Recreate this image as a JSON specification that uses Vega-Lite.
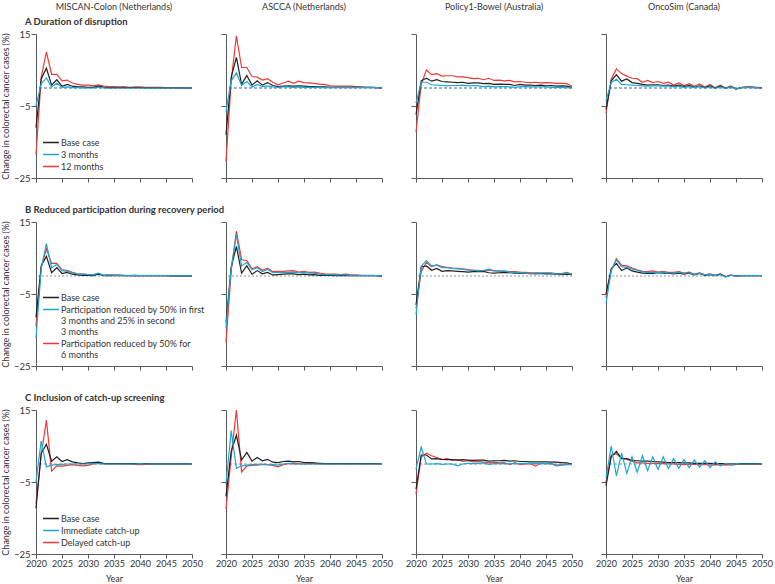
{
"$schema":"https://vega.github.io/schema/vega-lite/v6.json",
"padding":{"left":1,"top":3,"right":2,"bottom":0},
"config":{
 "view":{"stroke":null},
 "font":"Lato, DejaVu Sans Condensed, sans-serif",
 "title":{"font":"Lato, DejaVu Sans Condensed, sans-serif","fontSize":9,"fontWeight":"normal","color":"#333333","offset":2,"anchor":"middle"},
 "axis":{"grid":false,"domainColor":"#58595b","tickColor":"#58595b","domainWidth":1,"tickWidth":1,"labelFont":"Lato, DejaVu Sans Condensed, sans-serif","labelFontSize":9.5,"labelColor":"#333333","titleFont":"Lato, DejaVu Sans Condensed, sans-serif","titleFontSize":9,"titleFontWeight":"normal","titleColor":"#333333","labelPadding":1,"labelFlush":false,"labelOverlap":false},
 "axisX":{"tickSize":4,"labelPadding":1,"titlePadding":6,"labelFontSize":9},
 "axisY":{"tickSize":5,"titlePadding":3},
 "legend":{"symbolType":"M-1,0H1.9","symbolSize":121,"symbolStrokeWidth":1.5,"labelFont":"Lato, DejaVu Sans Condensed, sans-serif","labelFontSize":9,"labelColor":"#333333","rowPadding":0,"labelOffset":6,"padding":0,"labelLimit":400}
},
"datasets":{
"A1":[{"x":2020,"a":-11,"b":-5,"c":-18.5},{"x":2021,"a":2.5,"b":1.2,"c":3},{"x":2022,"a":5.5,"b":2.8,"c":10},{"x":2023,"a":0.8,"b":0.3,"c":3.8},{"x":2024,"a":2.3,"b":1.3,"c":3.8},{"x":2025,"a":0.5,"b":0.2,"c":2},{"x":2026,"a":1,"b":0.3,"c":2.2},{"x":2027,"a":0.5,"b":0.1,"c":1.4},{"x":2028,"a":0.3,"b":0.1,"c":1},{"x":2029,"a":0.3,"b":0.05,"c":0.8},{"x":2030,"a":0.2,"b":0,"c":0.8},{"x":2031,"a":0.2,"b":0,"c":0.6},{"x":2032,"a":0.6,"b":0.2,"c":0.9},{"x":2033,"a":0.2,"b":0,"c":0.5},{"x":2034,"a":0.1,"b":0,"c":0.4},{"x":2035,"a":0.1,"b":0,"c":0.4},{"x":2036,"a":0.1,"b":0,"c":0.3},{"x":2037,"a":0.1,"b":0,"c":0.4},{"x":2038,"a":0.1,"b":0,"c":0.2},{"x":2039,"a":0.1,"b":0,"c":0.3},{"x":2040,"a":0.1,"b":0,"c":0.3},{"x":2041,"a":0.05,"b":0,"c":0.2},{"x":2042,"a":0.05,"b":0,"c":0.2},{"x":2043,"a":0.05,"b":0,"c":0.15},{"x":2044,"a":0.05,"b":0,"c":0.15},{"x":2045,"a":0,"b":0,"c":0.1},{"x":2046,"a":0,"b":0,"c":0.1},{"x":2047,"a":0,"b":0,"c":0.1},{"x":2048,"a":0,"b":0,"c":0.05},{"x":2049,"a":0,"b":0,"c":0.05},{"x":2050,"a":0,"b":0,"c":0}],
"A2":[{"x":2020,"a":-13,"b":-6.5,"c":-20.5},{"x":2021,"a":3,"b":2,"c":2},{"x":2022,"a":8.5,"b":4.2,"c":14.5},{"x":2023,"a":1,"b":0.7,"c":5.7},{"x":2024,"a":3.5,"b":1.8,"c":5.7},{"x":2025,"a":0.8,"b":0.3,"c":3.2},{"x":2026,"a":2,"b":1,"c":3},{"x":2027,"a":0.8,"b":0.4,"c":2.2},{"x":2028,"a":1.5,"b":0.6,"c":2.6},{"x":2029,"a":0.7,"b":0.3,"c":1.6},{"x":2030,"a":0.4,"b":0.2,"c":0.9},{"x":2031,"a":0.5,"b":0.3,"c":1.4},{"x":2032,"a":0.6,"b":0.3,"c":1.9},{"x":2033,"a":0.5,"b":0.2,"c":1.3},{"x":2034,"a":0.6,"b":0.3,"c":1.9},{"x":2035,"a":0.5,"b":0.2,"c":1.5},{"x":2036,"a":0.4,"b":0.2,"c":1.4},{"x":2037,"a":0.4,"b":0.2,"c":1.3},{"x":2038,"a":0.3,"b":0.2,"c":1},{"x":2039,"a":0.3,"b":0.1,"c":1},{"x":2040,"a":0.2,"b":0.1,"c":0.6},{"x":2041,"a":0.2,"b":0.1,"c":0.5},{"x":2042,"a":0.2,"b":0.1,"c":0.5},{"x":2043,"a":0.2,"b":0.1,"c":0.5},{"x":2044,"a":0.2,"b":0.1,"c":0.5},{"x":2045,"a":0.2,"b":0.1,"c":0.4},{"x":2046,"a":0.2,"b":0.1,"c":0.3},{"x":2047,"a":0.2,"b":0.1,"c":0.2},{"x":2048,"a":0.2,"b":0.1,"c":0.2},{"x":2049,"a":0.1,"b":0.1,"c":0.1},{"x":2050,"a":0,"b":0,"c":0}],
"A3":[{"x":2020,"a":-7.4,"b":-4.2,"c":-12.3},{"x":2021,"a":2,"b":1.6,"c":1},{"x":2022,"a":2.7,"b":1.6,"c":5},{"x":2023,"a":1.9,"b":0.9,"c":3.7},{"x":2024,"a":2.3,"b":0.8,"c":4},{"x":2025,"a":1.8,"b":0.7,"c":3.3},{"x":2026,"a":1.7,"b":0.6,"c":3.4},{"x":2027,"a":1.6,"b":0.7,"c":3.4},{"x":2028,"a":1.5,"b":0.7,"c":3.1},{"x":2029,"a":1.6,"b":0.8,"c":3.1},{"x":2030,"a":1.3,"b":0.6,"c":2.9},{"x":2031,"a":1.4,"b":0.7,"c":2.6},{"x":2032,"a":1.4,"b":0.6,"c":2.7},{"x":2033,"a":1.2,"b":0.4,"c":2.3},{"x":2034,"a":1.3,"b":0.5,"c":2.7},{"x":2035,"a":1,"b":0.3,"c":2.1},{"x":2036,"a":1.1,"b":0.4,"c":2.2},{"x":2037,"a":1,"b":0.4,"c":2},{"x":2038,"a":1,"b":0.3,"c":2.1},{"x":2039,"a":0.7,"b":0.2,"c":1.7},{"x":2040,"a":1,"b":0.4,"c":1.8},{"x":2041,"a":0.8,"b":0.4,"c":1.6},{"x":2042,"a":0.8,"b":0.3,"c":1.5},{"x":2043,"a":0.7,"b":0.3,"c":1.6},{"x":2044,"a":0.8,"b":0.3,"c":1.4},{"x":2045,"a":0.6,"b":0.3,"c":1.5},{"x":2046,"a":0.7,"b":0.2,"c":1.4},{"x":2047,"a":0.5,"b":0.2,"c":1.3},{"x":2048,"a":0.6,"b":0.2,"c":1.3},{"x":2049,"a":0.5,"b":0.1,"c":1.2},{"x":2050,"a":0.2,"b":0,"c":0.5}],
"A4":[{"x":2020,"a":-6,"b":-3.5,"c":-7},{"x":2021,"a":2,"b":1.5,"c":2.5},{"x":2022,"a":3.7,"b":2.4,"c":5.3},{"x":2023,"a":1.9,"b":1,"c":4},{"x":2024,"a":2.5,"b":0.9,"c":3.3},{"x":2025,"a":1.5,"b":0.8,"c":2.7},{"x":2026,"a":1.3,"b":0.7,"c":2.6},{"x":2027,"a":1,"b":0.6,"c":1.6},{"x":2028,"a":0.8,"b":0.5,"c":2.1},{"x":2029,"a":0.9,"b":0.6,"c":1.5},{"x":2030,"a":0.9,"b":0.6,"c":1.8},{"x":2031,"a":0.7,"b":0.5,"c":1.3},{"x":2032,"a":0.8,"b":0.6,"c":1.6},{"x":2033,"a":0.5,"b":0.3,"c":0.8},{"x":2034,"a":0.8,"b":0.5,"c":1.4},{"x":2035,"a":0.4,"b":0.2,"c":0.7},{"x":2036,"a":0.7,"b":0.4,"c":1.2},{"x":2037,"a":0.2,"b":0.1,"c":0.5},{"x":2038,"a":0.6,"b":0.4,"c":1.1},{"x":2039,"a":0.1,"b":0,"c":0.3},{"x":2040,"a":0.6,"b":0.3,"c":1},{"x":2041,"a":0,"b":-0.1,"c":0.1},{"x":2042,"a":0.5,"b":0.3,"c":0.8},{"x":2043,"a":-0.1,"b":-0.1,"c":0},{"x":2044,"a":0.4,"b":0.3,"c":0.6},{"x":2045,"a":-0.3,"b":-0.3,"c":-0.2},{"x":2046,"a":0.1,"b":0.1,"c":0.2},{"x":2047,"a":0.2,"b":0.1,"c":0.3},{"x":2048,"a":0.2,"b":0.1,"c":0.3},{"x":2049,"a":0.1,"b":0.1,"c":0.2},{"x":2050,"a":0,"b":0,"c":0.1}],
"B1":[{"x":2020,"a":-11.5,"b":-17.3,"c":-14},{"x":2021,"a":2.8,"b":2,"c":2.5},{"x":2022,"a":5.5,"b":9,"c":7.5},{"x":2023,"a":0.9,"b":2.3,"c":3.5},{"x":2024,"a":2.3,"b":3.2,"c":3.5},{"x":2025,"a":0.7,"b":1.5,"c":1.8},{"x":2026,"a":1,"b":1.3,"c":1.5},{"x":2027,"a":0.5,"b":0.9,"c":1},{"x":2028,"a":0.3,"b":0.6,"c":0.6},{"x":2029,"a":0.2,"b":0.5,"c":0.5},{"x":2030,"a":0.2,"b":0.4,"c":0.4},{"x":2031,"a":0.1,"b":0.3,"c":0.3},{"x":2032,"a":0.5,"b":0.8,"c":0.7},{"x":2033,"a":0.1,"b":0.2,"c":0.2},{"x":2034,"a":0.1,"b":0.3,"c":0.3},{"x":2035,"a":0.1,"b":0.2,"c":0.3},{"x":2036,"a":0.1,"b":0.2,"c":0.3},{"x":2037,"a":0.1,"b":0.1,"c":0.2},{"x":2038,"a":0.1,"b":0.1,"c":0.1},{"x":2039,"a":0.1,"b":0.2,"c":0.2},{"x":2040,"a":0.1,"b":0.1,"c":0.1},{"x":2041,"a":0.1,"b":0.1,"c":0.1},{"x":2042,"a":0.1,"b":0.1,"c":0.1},{"x":2043,"a":0.1,"b":0.1,"c":0.1},{"x":2044,"a":0.1,"b":0.1,"c":0.1},{"x":2045,"a":0.1,"b":0.1,"c":0.1},{"x":2046,"a":0.05,"b":0.05,"c":0.05},{"x":2047,"a":0.05,"b":0.05,"c":0.05},{"x":2048,"a":0.05,"b":0.05,"c":0.05},{"x":2049,"a":0.05,"b":0.05,"c":0.05},{"x":2050,"a":0,"b":0,"c":0}],
"B2":[{"x":2020,"a":-13,"b":-14.5,"c":-18.5},{"x":2021,"a":2.5,"b":2.2,"c":1.5},{"x":2022,"a":8.2,"b":11.5,"c":12.5},{"x":2023,"a":0.8,"b":2.8,"c":4.5},{"x":2024,"a":2.8,"b":3.8,"c":4.3},{"x":2025,"a":0.5,"b":1.7,"c":2},{"x":2026,"a":1.5,"b":2.3,"c":2.6},{"x":2027,"a":0.6,"b":1.2,"c":1.6},{"x":2028,"a":1,"b":1.8,"c":2.2},{"x":2029,"a":0.3,"b":0.9,"c":1.2},{"x":2030,"a":0.4,"b":1,"c":1.3},{"x":2031,"a":0.5,"b":1,"c":1.3},{"x":2032,"a":0.6,"b":1,"c":1.4},{"x":2033,"a":0.6,"b":1.1,"c":1.5},{"x":2034,"a":0.4,"b":0.9,"c":1.1},{"x":2035,"a":0.5,"b":1,"c":1.3},{"x":2036,"a":0.3,"b":0.8,"c":1},{"x":2037,"a":0.4,"b":0.8,"c":1.1},{"x":2038,"a":0.2,"b":0.5,"c":0.8},{"x":2039,"a":0.2,"b":0.4,"c":0.6},{"x":2040,"a":0.2,"b":0.4,"c":0.5},{"x":2041,"a":0.1,"b":0.3,"c":0.5},{"x":2042,"a":0.1,"b":0.3,"c":0.4},{"x":2043,"a":0.2,"b":0.3,"c":0.5},{"x":2044,"a":0.1,"b":0.1,"c":0.3},{"x":2045,"a":0.1,"b":0.1,"c":0.3},{"x":2046,"a":0.1,"b":0.1,"c":0.2},{"x":2047,"a":0.1,"b":0.1,"c":0.2},{"x":2048,"a":0.1,"b":0.1,"c":0.2},{"x":2049,"a":0.1,"b":0.1,"c":0.1},{"x":2050,"a":-0.1,"b":0,"c":0}],
"B3":[{"x":2020,"a":-8,"b":-10.8,"c":-9},{"x":2021,"a":2.5,"b":2.7,"c":1.2},{"x":2022,"a":2.8,"b":4.3,"c":3.8},{"x":2023,"a":1.6,"b":2.8,"c":2.6},{"x":2024,"a":2.1,"b":3,"c":3.1},{"x":2025,"a":1.3,"b":2.3,"c":2.6},{"x":2026,"a":1.5,"b":2.3,"c":2.4},{"x":2027,"a":1.4,"b":2.1,"c":2.2},{"x":2028,"a":1.3,"b":2,"c":2.1},{"x":2029,"a":1.2,"b":1.9,"c":2},{"x":2030,"a":1.1,"b":1.6,"c":1.8},{"x":2031,"a":1.2,"b":1.6,"c":1.6},{"x":2032,"a":1.2,"b":1.4,"c":1.6},{"x":2033,"a":1.3,"b":1.5,"c":1.5},{"x":2034,"a":0.9,"b":1.9,"c":1.6},{"x":2035,"a":0.8,"b":1.5,"c":1.4},{"x":2036,"a":0.9,"b":1.3,"c":1.4},{"x":2037,"a":1,"b":1.4,"c":1.3},{"x":2038,"a":0.9,"b":1.1,"c":1.2},{"x":2039,"a":0.8,"b":1,"c":1.2},{"x":2040,"a":0.8,"b":1,"c":1},{"x":2041,"a":0.7,"b":0.8,"c":1},{"x":2042,"a":0.7,"b":0.6,"c":0.9},{"x":2043,"a":0.6,"b":0.8,"c":0.9},{"x":2044,"a":0.7,"b":0.8,"c":0.8},{"x":2045,"a":0.6,"b":0.9,"c":0.8},{"x":2046,"a":0.6,"b":0.8,"c":0.8},{"x":2047,"a":0.5,"b":0.5,"c":0.7},{"x":2048,"a":0.4,"b":0.6,"c":0.7},{"x":2049,"a":0.5,"b":0.8,"c":1},{"x":2050,"a":0.4,"b":0.5,"c":0.5}],
"B4":[{"x":2020,"a":-5,"b":-7.6,"c":-6},{"x":2021,"a":2,"b":1.5,"c":1.5},{"x":2022,"a":3.5,"b":4.5,"c":4.8},{"x":2023,"a":1.5,"b":2.6,"c":3},{"x":2024,"a":2.2,"b":2.4,"c":2.8},{"x":2025,"a":1.4,"b":2,"c":2.2},{"x":2026,"a":1.1,"b":1.6,"c":1.7},{"x":2027,"a":0.8,"b":1.1,"c":1.3},{"x":2028,"a":0.7,"b":1,"c":1.2},{"x":2029,"a":0.7,"b":1,"c":1.4},{"x":2030,"a":0.9,"b":1,"c":1.1},{"x":2031,"a":0.8,"b":1.1,"c":1.3},{"x":2032,"a":0.8,"b":0.9,"c":1},{"x":2033,"a":0.6,"b":0.8,"c":1},{"x":2034,"a":0.8,"b":1,"c":1.2},{"x":2035,"a":0.5,"b":0.7,"c":0.8},{"x":2036,"a":0.8,"b":0.9,"c":1.1},{"x":2037,"a":0.3,"b":0.4,"c":0.5},{"x":2038,"a":0.7,"b":0.8,"c":0.9},{"x":2039,"a":0.2,"b":0.3,"c":0.3},{"x":2040,"a":0.4,"b":0.5,"c":0.6},{"x":2041,"a":0.1,"b":0.1,"c":0.2},{"x":2042,"a":0.5,"b":0.4,"c":0.6},{"x":2043,"a":-0.2,"b":-0.3,"c":-0.2},{"x":2044,"a":0.2,"b":0.2,"c":0.3},{"x":2045,"a":0,"b":0,"c":0},{"x":2046,"a":0.1,"b":0.1,"c":0.1},{"x":2047,"a":0.1,"b":0.1,"c":0.1},{"x":2048,"a":0.1,"b":0.1,"c":0.1},{"x":2049,"a":0.1,"b":0.1,"c":0.1},{"x":2050,"a":0.1,"b":0.1,"c":0.1}],
"C1":[{"x":2020,"a":-12.3,"b":-4.9,"c":-11},{"x":2021,"a":3,"b":6.4,"c":2.5},{"x":2022,"a":5.5,"b":-0.8,"c":12.2},{"x":2023,"a":0.8,"b":-0.3,"c":-2},{"x":2024,"a":2,"b":-0.2,"c":-0.5},{"x":2025,"a":0.7,"b":-0.1,"c":-0.6},{"x":2026,"a":1.2,"b":0,"c":-0.4},{"x":2027,"a":0.6,"b":0,"c":-0.2},{"x":2028,"a":0.3,"b":0,"c":-0.4},{"x":2029,"a":0.1,"b":0,"c":-0.5},{"x":2030,"a":0.3,"b":0,"c":-0.4},{"x":2031,"a":0.4,"b":0.1,"c":0},{"x":2032,"a":0.5,"b":0.1,"c":0.3},{"x":2033,"a":0.2,"b":0,"c":0},{"x":2034,"a":0.1,"b":0,"c":0.05},{"x":2035,"a":0.1,"b":0,"c":0.05},{"x":2036,"a":0.1,"b":0,"c":0.05},{"x":2037,"a":0.1,"b":0,"c":0.05},{"x":2038,"a":0.1,"b":0,"c":0.05},{"x":2039,"a":0.1,"b":0,"c":-0.1},{"x":2040,"a":0.1,"b":0.1,"c":-0.2},{"x":2041,"a":0.1,"b":0,"c":-0.1},{"x":2042,"a":0.05,"b":0,"c":0},{"x":2043,"a":0.05,"b":0,"c":0},{"x":2044,"a":0.05,"b":0,"c":0},{"x":2045,"a":0.05,"b":0,"c":0},{"x":2046,"a":0.05,"b":0,"c":0},{"x":2047,"a":0.05,"b":0,"c":0},{"x":2048,"a":0.05,"b":0,"c":0},{"x":2049,"a":0.05,"b":0,"c":0},{"x":2050,"a":0,"b":0,"c":0}],
"C2":[{"x":2020,"a":-9,"b":-5.5,"c":-12.5},{"x":2021,"a":3.5,"b":9.3,"c":2},{"x":2022,"a":8,"b":-1.2,"c":15},{"x":2023,"a":1.1,"b":-0.5,"c":-2.2},{"x":2024,"a":3.2,"b":-0.3,"c":-0.5},{"x":2025,"a":0.8,"b":-0.2,"c":-0.4},{"x":2026,"a":1.8,"b":-0.1,"c":-0.3},{"x":2027,"a":0.9,"b":-0.1,"c":-0.1},{"x":2028,"a":1.3,"b":-0.2,"c":-0.2},{"x":2029,"a":0.5,"b":-0.2,"c":-0.4},{"x":2030,"a":0.4,"b":-0.3,"c":-0.8},{"x":2031,"a":0.7,"b":0,"c":-0.2},{"x":2032,"a":0.8,"b":0.2,"c":0.1},{"x":2033,"a":0.6,"b":0,"c":0.2},{"x":2034,"a":0.7,"b":0,"c":0.1},{"x":2035,"a":0.4,"b":0,"c":0},{"x":2036,"a":0.4,"b":0,"c":0.1},{"x":2037,"a":0.3,"b":0,"c":0.1},{"x":2038,"a":0.2,"b":0,"c":0},{"x":2039,"a":0.1,"b":0,"c":0},{"x":2040,"a":0.1,"b":0,"c":0},{"x":2041,"a":0.1,"b":0,"c":0},{"x":2042,"a":0.1,"b":0,"c":0},{"x":2043,"a":0.1,"b":0,"c":0},{"x":2044,"a":0.1,"b":0,"c":0},{"x":2045,"a":0.1,"b":0,"c":0},{"x":2046,"a":0.1,"b":0,"c":0},{"x":2047,"a":0.1,"b":0,"c":0},{"x":2048,"a":0.1,"b":0,"c":0},{"x":2049,"a":0.1,"b":0,"c":0},{"x":2050,"a":0,"b":0,"c":0}],
"C3":[{"x":2020,"a":-7,"b":-1.5,"c":-8.4},{"x":2021,"a":2.5,"b":4.7,"c":2},{"x":2022,"a":2.5,"b":0,"c":3},{"x":2023,"a":1.4,"b":0,"c":2.3},{"x":2024,"a":1.5,"b":0.1,"c":1.8},{"x":2025,"a":1.3,"b":-0.1,"c":1.2},{"x":2026,"a":1.2,"b":0,"c":1.5},{"x":2027,"a":1.2,"b":0,"c":1},{"x":2028,"a":1.1,"b":-0.5,"c":1.2},{"x":2029,"a":1.2,"b":0,"c":0.7},{"x":2030,"a":1.1,"b":0.2,"c":0.9},{"x":2031,"a":1,"b":0.1,"c":0.6},{"x":2032,"a":1.1,"b":0.2,"c":0.7},{"x":2033,"a":1.1,"b":0.3,"c":0.5},{"x":2034,"a":0.8,"b":-0.1,"c":0.3},{"x":2035,"a":0.9,"b":0.1,"c":0.5},{"x":2036,"a":0.9,"b":0.1,"c":0.3},{"x":2037,"a":1,"b":0.1,"c":0.4},{"x":2038,"a":0.8,"b":0.1,"c":-0.2},{"x":2039,"a":0.9,"b":0.1,"c":0.4},{"x":2040,"a":0.7,"b":0.1,"c":-0.2},{"x":2041,"a":0.7,"b":0.2,"c":0},{"x":2042,"a":0.6,"b":0.2,"c":0.1},{"x":2043,"a":0.6,"b":0.1,"c":-0.6},{"x":2044,"a":0.6,"b":0.1,"c":0.2},{"x":2045,"a":0.6,"b":0.2,"c":0.1},{"x":2046,"a":0.5,"b":0.1,"c":0.1},{"x":2047,"a":0.5,"b":-0.3,"c":-0.5},{"x":2048,"a":0.4,"b":-0.2,"c":-0.3},{"x":2049,"a":0.3,"b":-0.1,"c":-0.2},{"x":2050,"a":0,"b":-0.1,"c":-0.2}],
"C4":[{"x":2020,"a":-6,"b":-4,"c":-5},{"x":2021,"a":2,"b":5,"c":2.5},{"x":2022,"a":3.5,"b":-3.3,"c":2.8},{"x":2023,"a":1.5,"b":3,"c":1.7},{"x":2024,"a":1.5,"b":-2.6,"c":1.3},{"x":2025,"a":1,"b":2,"c":0.8},{"x":2026,"a":0.9,"b":-2.3,"c":0.3},{"x":2027,"a":0.8,"b":2.3,"c":0.3},{"x":2028,"a":0.8,"b":-1.8,"c":0.2},{"x":2029,"a":0.7,"b":2,"c":0.2},{"x":2030,"a":0.6,"b":-1.5,"c":0.1},{"x":2031,"a":0.5,"b":2,"c":0.1},{"x":2032,"a":0.4,"b":-1.3,"c":0},{"x":2033,"a":0.4,"b":1.5,"c":0},{"x":2034,"a":0.4,"b":-1.2,"c":-0.1},{"x":2035,"a":0.3,"b":1.2,"c":-0.2},{"x":2036,"a":0.3,"b":-1,"c":-0.1},{"x":2037,"a":0.2,"b":1.1,"c":-0.1},{"x":2038,"a":0.2,"b":-0.9,"c":-0.2},{"x":2039,"a":0.2,"b":0.9,"c":-0.1},{"x":2040,"a":0.2,"b":-1,"c":-0.3},{"x":2041,"a":0.1,"b":0.6,"c":-0.2},{"x":2042,"a":0.1,"b":-0.5,"c":-0.3},{"x":2043,"a":0.1,"b":0.2,"c":-0.2},{"x":2044,"a":0,"b":-0.2,"c":-0.3},{"x":2045,"a":0.1,"b":0.1,"c":-0.1},{"x":2046,"a":0.1,"b":0,"c":-0.1},{"x":2047,"a":0.1,"b":0,"c":-0.1},{"x":2048,"a":0.1,"b":0,"c":-0.1},{"x":2049,"a":0.1,"b":0,"c":-0.1},{"x":2050,"a":0,"b":0,"c":-0.1}]
},
"spacing":1,
"resolve":{"scale":{"color":"independent"}},
"vconcat":[
 {"hconcat":[
   {"width":156,"height":1,"title":"MISCAN-Colon (Netherlands)","data":{"values":[]},"mark":"point"},
   {"width":156,"height":1,"title":"ASCCA (Netherlands)","data":{"values":[]},"mark":"point"},
   {"width":156,"height":1,"title":"Policy1-Bowel (Australia)","data":{"values":[]},"mark":"point"},
   {"width":156,"height":1,"title":"OncoSim (Canada)","data":{"values":[]},"mark":"point"}
  ],"spacing":34,"bounds":"flush"},
 {"spacing":21,"resolve":{"scale":{"color":"independent"}},"vconcat":[
  {"title":{"text":"A  Duration of disruption","anchor":"start","frame":"group","dx":-11,"fontWeight":"bold","fontSize":9.5,"offset":3},
   "spacing":34,"bounds":"flush","resolve":{"scale":{"color":"independent"}},
   "hconcat":[
    {"width":156,"height":144,"layer":[
      {"data":{"values":[{}]},"mark":{"type":"rule","strokeDash":[3,2],"strokeWidth":1,"color":"#2f6b87"},"encoding":{"y":{"datum":0,"type":"quantitative"}}},
      {"data":{"name":"A1"},"transform":[{"fold":["c","a","b"],"as":["s","v"]}],"mark":{"type":"line","strokeWidth":1.2},
       "encoding":{"x":{"field":"x","type":"quantitative","scale":{"domain":[2020,2050],"nice":false,"zero":false},"axis":{"values":[2020,2025,2030,2035,2040,2045,2050],"labels":false,"title":null}},
        "y":{"field":"v","type":"quantitative","scale":{"domain":[-25,15],"nice":false},"axis":{"values":[-25,-15,-5,5,15],"title":"Change in colorectal cancer cases (%)"}},
        "color":{"field":"s","type":"nominal","scale":{"domain":["a","b","c"],"range":["#231f20","#1aa7d4","#ee3a36"]},"legend":{"orient":"bottom-left","offset":6,"title":null,"labelExpr":"datum.value == 'a' ? 'Base case' : datum.value == 'b' ? '3 months' : '12 months'"}}}}
    ]},
    {"width":156,"height":144,"layer":[
      {"data":{"values":[{}]},"mark":{"type":"rule","strokeDash":[3,2],"strokeWidth":1,"color":"#2f6b87"},"encoding":{"y":{"datum":0,"type":"quantitative"}}},
      {"data":{"name":"A2"},"transform":[{"fold":["c","a","b"],"as":["s","v"]}],"mark":{"type":"line","strokeWidth":1.2},
       "encoding":{"x":{"field":"x","type":"quantitative","scale":{"domain":[2020,2050],"nice":false,"zero":false},"axis":{"values":[2020,2025,2030,2035,2040,2045,2050],"labels":false,"title":null}},
        "y":{"field":"v","type":"quantitative","scale":{"domain":[-25,15],"nice":false},"axis":{"values":[-25,-15,-5,5,15],"labels":false,"title":null}},
        "color":{"field":"s","type":"nominal","scale":{"domain":["a","b","c"],"range":["#231f20","#1aa7d4","#ee3a36"]},"legend":null}}}
    ]},
    {"width":156,"height":144,"layer":[
      {"data":{"values":[{}]},"mark":{"type":"rule","strokeDash":[3,2],"strokeWidth":1,"color":"#2f6b87"},"encoding":{"y":{"datum":0,"type":"quantitative"}}},
      {"data":{"name":"A3"},"transform":[{"fold":["c","a","b"],"as":["s","v"]}],"mark":{"type":"line","strokeWidth":1.2},
       "encoding":{"x":{"field":"x","type":"quantitative","scale":{"domain":[2020,2050],"nice":false,"zero":false},"axis":{"values":[2020,2025,2030,2035,2040,2045,2050],"labels":false,"title":null}},
        "y":{"field":"v","type":"quantitative","scale":{"domain":[-25,15],"nice":false},"axis":{"values":[-25,-15,-5,5,15],"labels":false,"title":null}},
        "color":{"field":"s","type":"nominal","scale":{"domain":["a","b","c"],"range":["#231f20","#1aa7d4","#ee3a36"]},"legend":null}}}
    ]},
    {"width":156,"height":144,"layer":[
      {"data":{"values":[{}]},"mark":{"type":"rule","strokeDash":[3,2],"strokeWidth":1,"color":"#2f6b87"},"encoding":{"y":{"datum":0,"type":"quantitative"}}},
      {"data":{"name":"A4"},"transform":[{"fold":["c","a","b"],"as":["s","v"]}],"mark":{"type":"line","strokeWidth":1.2},
       "encoding":{"x":{"field":"x","type":"quantitative","scale":{"domain":[2020,2050],"nice":false,"zero":false},"axis":{"values":[2020,2025,2030,2035,2040,2045,2050],"labels":false,"title":null}},
        "y":{"field":"v","type":"quantitative","scale":{"domain":[-25,15],"nice":false},"axis":{"values":[-25,-15,-5,5,15],"labels":false,"title":null}},
        "color":{"field":"s","type":"nominal","scale":{"domain":["a","b","c"],"range":["#231f20","#1aa7d4","#ee3a36"]},"legend":null}}}
    ]}
   ]},
  {"title":{"text":"B  Reduced participation during recovery period","anchor":"start","frame":"group","dx":-11,"fontWeight":"bold","fontSize":9.5,"offset":3},
   "spacing":34,"bounds":"flush","resolve":{"scale":{"color":"independent"}},
   "hconcat":[
    {"width":156,"height":144,"layer":[
      {"data":{"values":[{}]},"mark":{"type":"rule","strokeDash":[2,2],"strokeWidth":1,"color":"#8f969c"},"encoding":{"y":{"datum":0,"type":"quantitative"}}},
      {"data":{"name":"B1"},"transform":[{"fold":["c","a","b"],"as":["s","v"]}],"mark":{"type":"line","strokeWidth":1.2},
       "encoding":{"x":{"field":"x","type":"quantitative","scale":{"domain":[2020,2050],"nice":false,"zero":false},"axis":{"values":[2020,2025,2030,2035,2040,2045,2050],"labels":false,"title":null}},
        "y":{"field":"v","type":"quantitative","scale":{"domain":[-25,15],"nice":false},"axis":{"values":[-25,-15,-5,5,15],"title":"Change in colorectal cancer cases (%)"}},
        "color":{"field":"s","type":"nominal","scale":{"domain":["a","b","c"],"range":["#231f20","#1aa7d4","#ee3a36"]},"legend":{"orient":"bottom-left","offset":6,"title":null,"labelExpr":"datum.value == 'a' ? 'Base case' : datum.value == 'b' ? ['Participation reduced by 50% in first', ' 3 months and 25% in second', '3 months'] : ['Participation reduced by 50% for', '6 months']"}}}}
    ]},
    {"width":156,"height":144,"layer":[
      {"data":{"values":[{}]},"mark":{"type":"rule","strokeDash":[2,2],"strokeWidth":1,"color":"#8f969c"},"encoding":{"y":{"datum":0,"type":"quantitative"}}},
      {"data":{"name":"B2"},"transform":[{"fold":["c","a","b"],"as":["s","v"]}],"mark":{"type":"line","strokeWidth":1.2},
       "encoding":{"x":{"field":"x","type":"quantitative","scale":{"domain":[2020,2050],"nice":false,"zero":false},"axis":{"values":[2020,2025,2030,2035,2040,2045,2050],"labels":false,"title":null}},
        "y":{"field":"v","type":"quantitative","scale":{"domain":[-25,15],"nice":false},"axis":{"values":[-25,-15,-5,5,15],"labels":false,"title":null}},
        "color":{"field":"s","type":"nominal","scale":{"domain":["a","b","c"],"range":["#231f20","#1aa7d4","#ee3a36"]},"legend":null}}}
    ]},
    {"width":156,"height":144,"layer":[
      {"data":{"values":[{}]},"mark":{"type":"rule","strokeDash":[2,2],"strokeWidth":1,"color":"#8f969c"},"encoding":{"y":{"datum":0,"type":"quantitative"}}},
      {"data":{"name":"B3"},"transform":[{"fold":["c","a","b"],"as":["s","v"]}],"mark":{"type":"line","strokeWidth":1.2},
       "encoding":{"x":{"field":"x","type":"quantitative","scale":{"domain":[2020,2050],"nice":false,"zero":false},"axis":{"values":[2020,2025,2030,2035,2040,2045,2050],"labels":false,"title":null}},
        "y":{"field":"v","type":"quantitative","scale":{"domain":[-25,15],"nice":false},"axis":{"values":[-25,-15,-5,5,15],"labels":false,"title":null}},
        "color":{"field":"s","type":"nominal","scale":{"domain":["a","b","c"],"range":["#231f20","#1aa7d4","#ee3a36"]},"legend":null}}}
    ]},
    {"width":156,"height":144,"layer":[
      {"data":{"values":[{}]},"mark":{"type":"rule","strokeDash":[2,2],"strokeWidth":1,"color":"#8f969c"},"encoding":{"y":{"datum":0,"type":"quantitative"}}},
      {"data":{"name":"B4"},"transform":[{"fold":["c","a","b"],"as":["s","v"]}],"mark":{"type":"line","strokeWidth":1.2},
       "encoding":{"x":{"field":"x","type":"quantitative","scale":{"domain":[2020,2050],"nice":false,"zero":false},"axis":{"values":[2020,2025,2030,2035,2040,2045,2050],"labels":false,"title":null}},
        "y":{"field":"v","type":"quantitative","scale":{"domain":[-25,15],"nice":false},"axis":{"values":[-25,-15,-5,5,15],"labels":false,"title":null}},
        "color":{"field":"s","type":"nominal","scale":{"domain":["a","b","c"],"range":["#231f20","#1aa7d4","#ee3a36"]},"legend":null}}}
    ]}
   ]},
  {"title":{"text":"C  Inclusion of catch-up screening","anchor":"start","frame":"group","dx":-11,"fontWeight":"bold","fontSize":9.5,"offset":3},
   "spacing":34,"bounds":"flush","resolve":{"scale":{"color":"independent"}},
   "hconcat":[
    {"width":156,"height":144,"layer":[
      {"data":{"values":[{}]},"mark":{"type":"rule","strokeDash":[3,2],"strokeWidth":1,"color":"#8696a3"},"encoding":{"y":{"datum":0,"type":"quantitative"}}},
      {"data":{"name":"C1"},"transform":[{"fold":["c","a","b"],"as":["s","v"]}],"mark":{"type":"line","strokeWidth":1.2},
       "encoding":{"x":{"field":"x","type":"quantitative","scale":{"domain":[2020,2050],"nice":false,"zero":false},"axis":{"values":[2020,2025,2030,2035,2040,2045,2050],"format":"d","title":"Year"}},
        "y":{"field":"v","type":"quantitative","scale":{"domain":[-25,15],"nice":false},"axis":{"values":[-25,-15,-5,5,15],"title":"Change in colorectal cancer cases (%)"}},
        "color":{"field":"s","type":"nominal","scale":{"domain":["a","b","c"],"range":["#231f20","#1aa7d4","#ee3a36"]},"legend":{"orient":"bottom-left","offset":6,"title":null,"labelExpr":"datum.value == 'a' ? 'Base case' : datum.value == 'b' ? 'Immediate catch-up' : 'Delayed catch-up'"}}}}
    ]},
    {"width":156,"height":144,"layer":[
      {"data":{"values":[{}]},"mark":{"type":"rule","strokeDash":[3,2],"strokeWidth":1,"color":"#8696a3"},"encoding":{"y":{"datum":0,"type":"quantitative"}}},
      {"data":{"name":"C2"},"transform":[{"fold":["c","a","b"],"as":["s","v"]}],"mark":{"type":"line","strokeWidth":1.2},
       "encoding":{"x":{"field":"x","type":"quantitative","scale":{"domain":[2020,2050],"nice":false,"zero":false},"axis":{"values":[2020,2025,2030,2035,2040,2045,2050],"format":"d","title":"Year"}},
        "y":{"field":"v","type":"quantitative","scale":{"domain":[-25,15],"nice":false},"axis":{"values":[-25,-15,-5,5,15],"labels":false,"title":null}},
        "color":{"field":"s","type":"nominal","scale":{"domain":["a","b","c"],"range":["#231f20","#1aa7d4","#ee3a36"]},"legend":null}}}
    ]},
    {"width":156,"height":144,"layer":[
      {"data":{"values":[{}]},"mark":{"type":"rule","strokeDash":[3,2],"strokeWidth":1,"color":"#8696a3"},"encoding":{"y":{"datum":0,"type":"quantitative"}}},
      {"data":{"name":"C3"},"transform":[{"fold":["c","a","b"],"as":["s","v"]}],"mark":{"type":"line","strokeWidth":1.2},
       "encoding":{"x":{"field":"x","type":"quantitative","scale":{"domain":[2020,2050],"nice":false,"zero":false},"axis":{"values":[2020,2025,2030,2035,2040,2045,2050],"format":"d","title":"Year"}},
        "y":{"field":"v","type":"quantitative","scale":{"domain":[-25,15],"nice":false},"axis":{"values":[-25,-15,-5,5,15],"labels":false,"title":null}},
        "color":{"field":"s","type":"nominal","scale":{"domain":["a","b","c"],"range":["#231f20","#1aa7d4","#ee3a36"]},"legend":null}}}
    ]},
    {"width":156,"height":144,"layer":[
      {"data":{"values":[{}]},"mark":{"type":"rule","strokeDash":[3,2],"strokeWidth":1,"color":"#8696a3"},"encoding":{"y":{"datum":0,"type":"quantitative"}}},
      {"data":{"name":"C4"},"transform":[{"fold":["c","a","b"],"as":["s","v"]}],"mark":{"type":"line","strokeWidth":1.2},
       "encoding":{"x":{"field":"x","type":"quantitative","scale":{"domain":[2020,2050],"nice":false,"zero":false},"axis":{"values":[2020,2025,2030,2035,2040,2045,2050],"format":"d","title":"Year"}},
        "y":{"field":"v","type":"quantitative","scale":{"domain":[-25,15],"nice":false},"axis":{"values":[-25,-15,-5,5,15],"labels":false,"title":null}},
        "color":{"field":"s","type":"nominal","scale":{"domain":["a","b","c"],"range":["#231f20","#1aa7d4","#ee3a36"]},"legend":null}}}
    ]}
   ]}
 ]}
]
}
